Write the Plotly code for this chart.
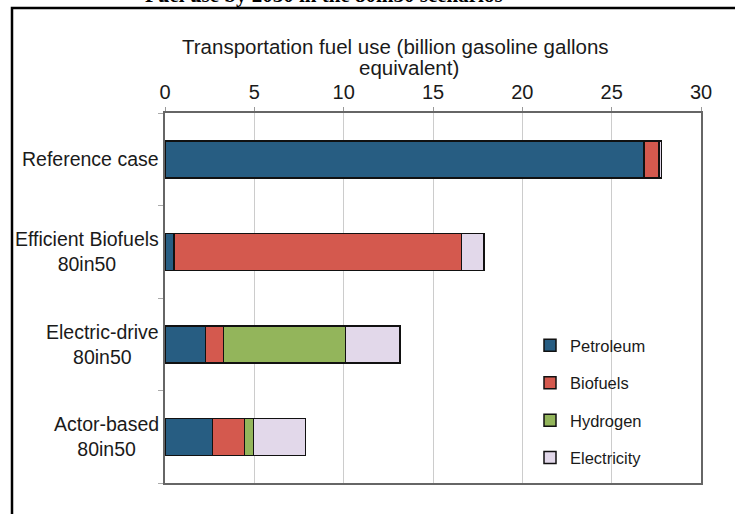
import plotly.graph_objects as go

categories = ["Reference case", "Efficient Biofuels<br>80in50", "Electric-drive<br>80in50", "Actor-based<br>80in50"]
petroleum = [26.8, 0.5, 2.26, 2.67]
biofuels = [0.85, 16.1, 1.0, 1.77]
hydrogen = [0.0, 0.0, 6.85, 0.5]
electricity = [0.15, 1.25, 3.05, 2.93]
series_names = ["Petroleum", "Biofuels", "Hydrogen", "Electricity"]
series_colors = ["#275d82", "#d4594e", "#93b55b", "#e2d8ea"]
x_ticks = [0, 5, 10, 15, 20, 25, 30]

W, H = 735, 514
L, R, T, B = 165, 34, 113, 31
pw, ph = W - L - R, H - T - B

def px(xp):
    return (xp - L) / pw

def py(yp):
    return (H - B - yp) / ph

fig = go.Figure()
for name, vals, col in zip(series_names, [petroleum, biofuels, hydrogen, electricity], series_colors):
    fig.add_trace(go.Bar(
        y=list(range(len(categories))), x=vals, name=name, orientation="h",
        legendgroup=name,
        marker=dict(color=col, line=dict(color="#111111", width=1.5)),
    ))

font_main = "Liberation Sans, Arial, sans-serif"
annotations = []
for i, c in enumerate(categories):
    annotations.append(dict(
        x=px(161), xref="paper", y=i, yref="y", text=c, showarrow=False,
        xanchor="right", yanchor="middle", align="center",
        font=dict(family=font_main, size=19.5, color="#1a1a1a"),
    ))
annotations.append(dict(
    x=px(395), xref="paper", y=py(46), yref="paper",
    text="Transportation fuel use (billion gasoline gallons", showarrow=False,
    xanchor="center", yanchor="middle", font=dict(family=font_main, size=20.5, color="#1a1a1a")))
annotations.append(dict(
    x=px(409), xref="paper", y=py(68), yref="paper",
    text="equivalent)", showarrow=False,
    xanchor="center", yanchor="middle", font=dict(family=font_main, size=20.5, color="#1a1a1a")))
annotations.append(dict(
    x=px(505), xref="paper", y=py(8.5), yref="paper",
    text="<b>Fuel use by 2050 in the 80in50 scenarios</b>", showarrow=False,
    xanchor="right", yanchor="bottom", font=dict(family="Liberation Serif, Times New Roman, serif", size=21, color="#000000")))

fig.update_layout(
    width=W, height=H,
    margin=dict(l=L, r=R, t=T, b=B),
    paper_bgcolor="white", plot_bgcolor="white",
    barmode="stack", bargap=0.6,
    showlegend=True,
    legend=dict(
        x=px(530), y=py(328), xanchor="left", yanchor="top",
        traceorder="grouped", tracegroupgap=13,
        font=dict(family=font_main, size=16.5, color="#1a1a1a"),
        bgcolor="rgba(0,0,0,0)", itemwidth=30,
    ),
    annotations=annotations,
    shapes=[dict(type="rect", xref="paper", yref="paper",
                 x0=px(12), x1=px(760), y0=py(540), y1=py(8),
                 line=dict(color="#000000", width=2.5), layer="above")],
)

fig.update_xaxes(
    side="top", range=[0, 30], tickvals=x_ticks, ticktext=[str(v) for v in x_ticks],
    showgrid=True, gridcolor="#cccccc", gridwidth=1,
    showline=True, linecolor="#666666", linewidth=1.5, mirror=True,
    ticks="outside", ticklen=4, tickcolor="#999999",
    tickfont=dict(family=font_main, size=20, color="#1a1a1a"),
    zeroline=False,
)
fig.update_yaxes(
    type="linear", range=[3.5, -0.5], showticklabels=False,
    tickvals=[-0.5, 0.5, 1.5, 2.5, 3.5],
    showgrid=False, zeroline=False,
    showline=True, linecolor="#666666", linewidth=1.5, mirror=True,
    ticks="outside", ticklen=5, tickcolor="#aaaaaa",
)

fig.write_html("out.html", config={"displayModeBar": False},
               post_script="document.body.style.margin='0';document.body.style.overflow='hidden';")
